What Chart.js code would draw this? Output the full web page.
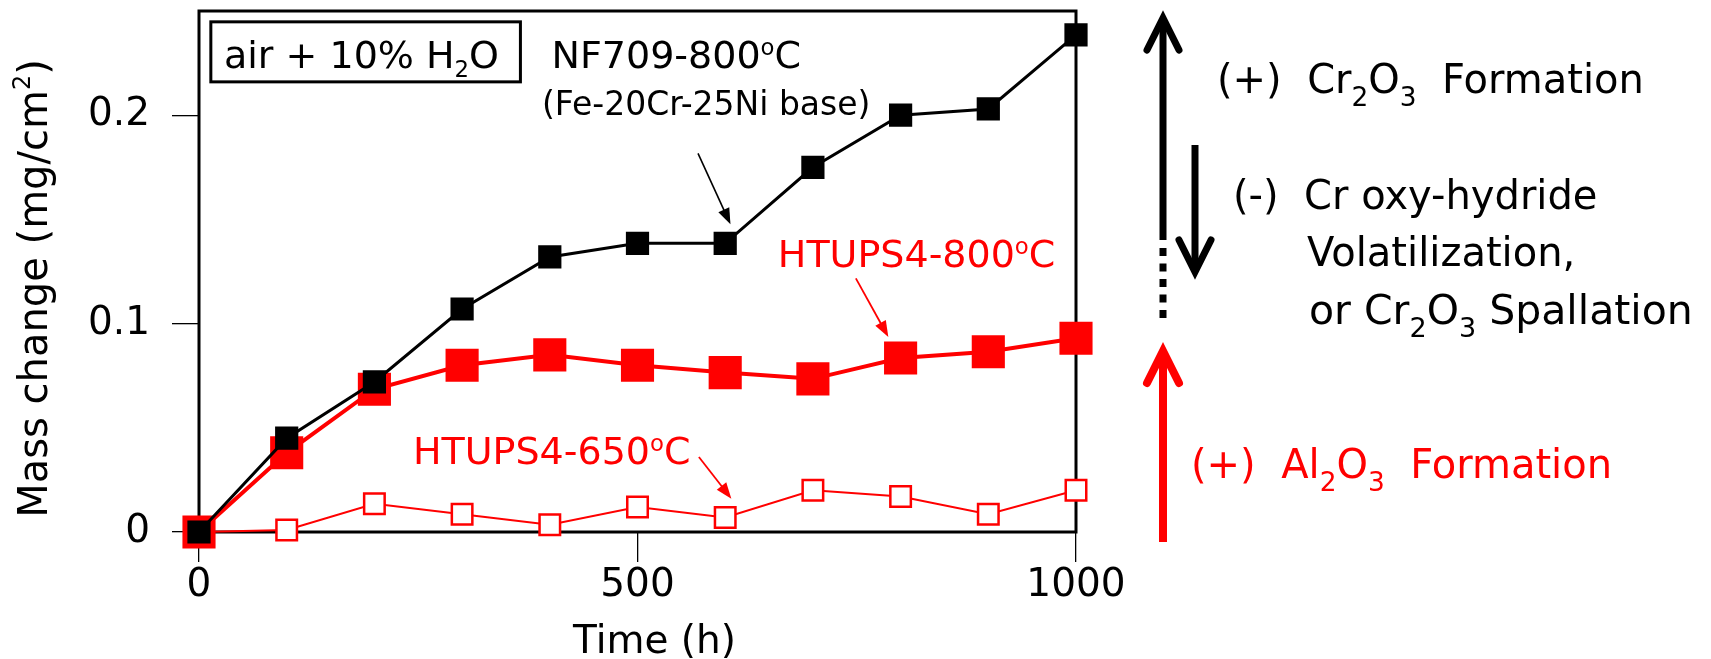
<!DOCTYPE html>
<html>
<head>
<meta charset="utf-8">
<script src="https://cdn.jsdelivr.net/npm/chart.js@4.4.1/dist/chart.umd.min.js"></script>
<style>
  html, body { margin: 0; padding: 0; background: #fff; }
  #wrap { width: 1711px; height: 659px; }
</style>
</head>
<body>
<div id="wrap"><canvas id="massChart" width="1711" height="659"></canvas></div>
<script>
// exposure time (h) and mass change (mg/cm2)
const hours = [0, 100, 200, 300, 400, 500, 600, 700, 800, 900, 1000];
const nf709_800 = [0, 0.045, 0.072, 0.107, 0.132, 0.1385, 0.1385, 0.175, 0.200, 0.203, 0.2385];
const htups4_800 = [0, 0.038, 0.0685, 0.080, 0.085, 0.080, 0.0765, 0.0735, 0.0835, 0.0865, 0.093];
const htups4_650 = [0, 0.001, 0.0135, 0.0085, 0.0035, 0.012, 0.007, 0.020, 0.017, 0.0085, 0.020];

const xTicks = [0, 500, 1000];
const yTicks = [0, 0.1, 0.2];

const FONT = '"DejaVu Sans", "Verdana", sans-serif';
const RED = '#ff0000';

function toPoints(values) {
  return hours.map((h, i) => ({ x: h, y: values[i] }));
}

// text with _{sub} and ^{sup} parts
function parseRich(str) {
  const parts = [];
  const re = /([_^])\{([^}]*)\}/g;
  let last = 0, m;
  while ((m = re.exec(str))) {
    if (m.index > last) parts.push({ t: str.slice(last, m.index), k: '' });
    parts.push({ t: m[2], k: m[1] });
    last = re.lastIndex;
  }
  if (last < str.length) parts.push({ t: str.slice(last), k: '' });
  return parts;
}

function drawRich(ctx, str, x, y, size, color, opts = {}) {
  const small = opts.small || 0.62;
  const subShift = opts.subShift || 0.25;
  const supShift = opts.supShift || 0.36;
  const parts = parseRich(str);
  ctx.save();
  ctx.textBaseline = 'alphabetic';
  ctx.textAlign = 'left';
  let w = 0;
  parts.forEach(p => {
    ctx.font = `${p.k ? size * small : size}px ${FONT}`;
    w += ctx.measureText(p.t).width;
  });
  let cx = opts.center ? x - w / 2 : x;
  ctx.fillStyle = color;
  parts.forEach(p => {
    ctx.font = `${p.k ? size * small : size}px ${FONT}`;
    const dy = p.k === '_' ? size * subShift : p.k === '^' ? -size * supShift : 0;
    ctx.fillText(p.t, cx, y + dy);
    cx += ctx.measureText(p.t).width;
  });
  ctx.restore();
}

// thin pointer with filled head
function pointer(ctx, x1, y1, x2, y2, color, lw) {
  const ang = Math.atan2(y2 - y1, x2 - x1);
  const len = 16, half = 6;
  ctx.save();
  ctx.strokeStyle = color;
  ctx.fillStyle = color;
  ctx.lineWidth = lw;
  ctx.beginPath();
  ctx.moveTo(x1, y1);
  ctx.lineTo(x2 - Math.cos(ang) * len * 0.8, y2 - Math.sin(ang) * len * 0.8);
  ctx.stroke();
  ctx.beginPath();
  ctx.moveTo(x2, y2);
  ctx.lineTo(x2 - Math.cos(ang) * len - Math.sin(ang) * half, y2 - Math.sin(ang) * len + Math.cos(ang) * half);
  ctx.lineTo(x2 - Math.cos(ang) * len + Math.sin(ang) * half, y2 - Math.sin(ang) * len - Math.cos(ang) * half);
  ctx.closePath();
  ctx.fill();
  ctx.restore();
}

// thick vertical arrow with open chevron head
function bigArrow(ctx, x, yTail, yTip, color, lw) {
  const dir = yTip < yTail ? -1 : 1;
  const headH = 32, headW = 16;
  ctx.save();
  ctx.strokeStyle = color;
  ctx.lineWidth = lw;
  ctx.lineCap = 'butt';
  ctx.beginPath();
  ctx.moveTo(x, yTail);
  ctx.lineTo(x, yTip - dir * 4);
  ctx.stroke();
  ctx.lineCap = 'round';
  ctx.lineJoin = 'miter';
  ctx.beginPath();
  ctx.moveTo(x - headW, yTip - dir * headH);
  ctx.lineTo(x, yTip);
  ctx.lineTo(x + headW, yTip - dir * headH);
  ctx.stroke();
  ctx.restore();
}

const framePlugin = {
  id: 'frame',
  beforeDatasetsDraw(chart) {
    const { ctx, chartArea: a } = chart;
    ctx.save();
    ctx.strokeStyle = '#000';
    ctx.lineWidth = 3;
    ctx.strokeRect(a.left, a.top, a.right - a.left, a.bottom - a.top);
    ctx.restore();
  }
};

const notesPlugin = {
  id: 'notes',
  afterDraw(chart) {
    const { ctx, chartArea: a } = chart;
    const sx = v => chart.scales.x.getPixelForValue(v);
    const sy = v => chart.scales.y.getPixelForValue(v);

    // axis titles
    drawRich(ctx, 'Time (h)', (a.left + a.right) / 2 + 17, 653, 39, '#000', { center: true });
    ctx.save();
    ctx.translate(47, (a.top + a.bottom) / 2 + 17);
    ctx.rotate(-Math.PI / 2);
    drawRich(ctx, 'Mass change (mg/cm^{2})', 0, 0, 40, '#000', { center: true, small: 0.6, supShift: 0.42 });
    ctx.restore();

    // condition box
    ctx.save();
    ctx.strokeStyle = '#000';
    ctx.lineWidth = 3;
    ctx.strokeRect(sx(13.5), sy(0.2448), sx(366.5) - sx(13.5), sy(0.216) - sy(0.2448));
    ctx.restore();
    drawRich(ctx, 'air + 10% H_{2}O', sx(28.5), sy(0.2225), 38, '#000', { small: 0.6, subShift: 0.22 });

    // series labels
    drawRich(ctx, 'NF709-800^{o}C', sx(402), sy(0.2225), 38, '#000', { small: 0.6, supShift: 0.34 });
    drawRich(ctx, '(Fe-20Cr-25Ni base)', sx(391), sy(0.2), 33, '#000');
    pointer(ctx, sx(569), sy(0.1817), sx(606), sy(0.1477), '#000', 1.6);

    drawRich(ctx, 'HTUPS4-800^{o}C', sx(660), sy(0.1272), 38, RED, { small: 0.6, supShift: 0.34 });
    pointer(ctx, sx(749), sy(0.1217), sx(786), sy(0.0936), RED, 1.8);

    drawRich(ctx, 'HTUPS4-650^{o}C', sx(244), sy(0.0328), 38, RED, { small: 0.6, supShift: 0.34 });
    pointer(ctx, sx(570), sy(0.036), sx(607), sy(0.016), RED, 1.8);

    // mechanism arrows on the right
    bigArrow(ctx, 1163, 240, 18, '#000', 7);
    ctx.save();
    ctx.strokeStyle = '#000';
    ctx.lineWidth = 7;
    ctx.setLineDash([8, 7.5]);
    ctx.beginPath();
    ctx.moveTo(1163, 248);
    ctx.lineTo(1163, 321);
    ctx.stroke();
    ctx.restore();
    bigArrow(ctx, 1195, 145, 272, '#000', 7);
    bigArrow(ctx, 1163, 542, 351, RED, 8);

    const rOpts = { small: 0.66, subShift: 0.33 };
    drawRich(ctx, '(+)  Cr_{2}O_{3}  Formation', 1217, 92.5, 40, '#000', rOpts);
    drawRich(ctx, '(-)  Cr oxy-hydride', 1233, 208.5, 40, '#000', rOpts);
    drawRich(ctx, 'Volatilization,', 1307, 266, 40, '#000', rOpts);
    drawRich(ctx, 'or Cr_{2}O_{3} Spallation', 1309, 323.5, 41, '#000', rOpts);
    drawRich(ctx, '(+)  Al_{2}O_{3}  Formation', 1191, 478, 40, RED, rOpts);
  }
};

const tickFont = { family: FONT, size: 39 };

new Chart(document.getElementById('massChart'), {
  type: 'line',
  data: {
    datasets: [
      {
        label: 'NF709-800oC',
        data: toPoints(nf709_800),
        borderColor: '#000',
        backgroundColor: '#000',
        borderWidth: 3,
        pointStyle: 'rect',
        pointRadius: 15,
        pointBorderWidth: 2,
        pointBackgroundColor: '#000',
        pointBorderColor: '#000',
        clip: false
      },
      {
        label: 'HTUPS4-800oC',
        data: toPoints(htups4_800),
        borderColor: RED,
        backgroundColor: RED,
        borderWidth: 4,
        pointStyle: 'rect',
        pointRadius: 22,
        pointBorderWidth: 2,
        pointBackgroundColor: RED,
        pointBorderColor: RED,
        clip: false
      },
      {
        label: 'HTUPS4-650oC',
        data: toPoints(htups4_650),
        borderColor: RED,
        backgroundColor: '#fff',
        borderWidth: 2,
        pointStyle: 'rect',
        pointRadius: 14.5,
        pointBorderWidth: 2.5,
        pointBackgroundColor: '#fff',
        pointBorderColor: RED,
        clip: false
      }
    ]
  },
  options: {
    responsive: false,
    animation: false,
    devicePixelRatio: 1,
    layout: { autoPadding: false, padding: { left: 0, right: 635, top: 11, bottom: 0 } },
    plugins: { legend: { display: false }, tooltip: { enabled: false } },
    scales: {
      x: {
        type: 'linear',
        min: 0,
        max: 1000,
        afterFit: s => { s.height = 127; s.paddingLeft = 0; s.paddingRight = 0; },
        afterBuildTicks: s => { s.ticks = xTicks.map(v => ({ value: v })); },
        grid: { drawOnChartArea: false, drawTicks: true, tickLength: 30, color: '#000', lineWidth: 1.3 },
        border: { display: false },
        ticks: { color: '#000', font: tickFont, padding: 0, maxRotation: 0, callback: v => String(v) }
      },
      y: {
        type: 'linear',
        min: 0,
        max: 0.25,
        afterFit: s => { s.width = 199; s.paddingTop = 0; s.paddingBottom = 0; },
        afterBuildTicks: s => { s.ticks = yTicks.map(v => ({ value: v })); },
        grid: { drawOnChartArea: false, drawTicks: true, tickLength: 27, color: '#000', lineWidth: 1.3 },
        border: { display: false },
        ticks: { color: '#000', font: tickFont, padding: 22, callback: v => String(v) }
      }
    }
  },
  plugins: [framePlugin, notesPlugin]
});
</script>
</body>
</html>
